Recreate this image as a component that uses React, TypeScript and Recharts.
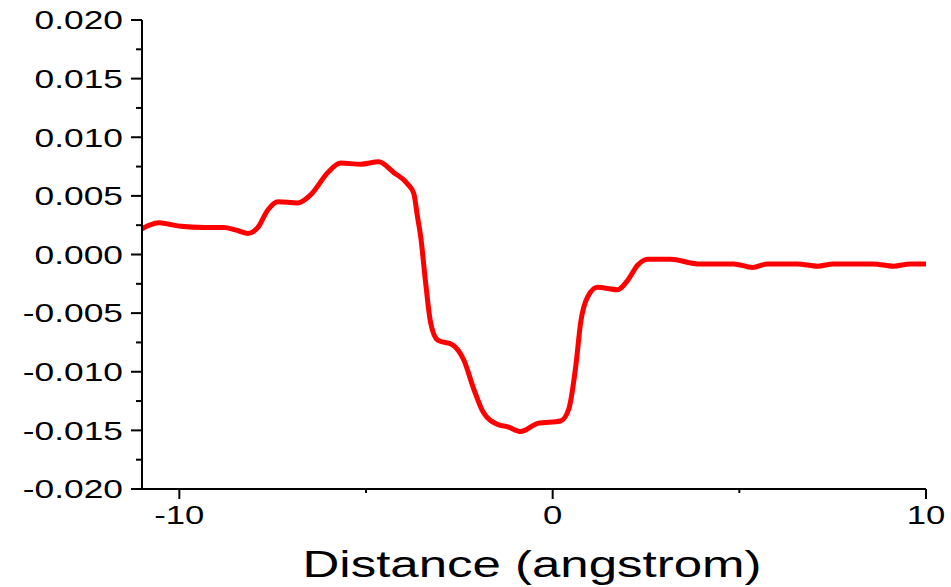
import React from 'react';
import { LineChart, Line, XAxis, YAxis, Label } from 'recharts';

// Sampled profile along the line (distance in angstrom)
const distance = [
  -11, -10.8, -10.55, -10.3, -9.96, -9.34, -8.81, -8.5, -8.17, -7.9, -7.63, -7.36,
  -6.83, -6.48, -6.02, -5.68, -5.14, -4.66, -4.26, -3.88, -3.72, -3.62, -3.53, -3.4,
  -3.27, -3.08, -2.68, -2.38, -2.11, -1.85, -1.47, -1.2, -0.86, -0.4, 0.21, 0.43,
  0.62, 0.75, 0.94, 1.2, 1.74, 2.01, 2.28, 2.54, 3.16, 3.88, 4.85, 5.35, 5.76, 6.56,
  7.1, 7.52, 8.59, 9.13, 9.58, 10,
];

const profile = [
  0.0022, 0.0025, 0.0027, 0.0026, 0.0024, 0.0023, 0.0023, 0.0021, 0.0018, 0.0023, 0.0038, 0.0045,
  0.0044, 0.0051, 0.007, 0.0078, 0.0077, 0.0079, 0.007, 0.006, 0.0052, 0.0032, 0.0014, -0.0025,
  -0.0058, -0.0073, -0.0077, -0.009, -0.0115, -0.0135, -0.0145, -0.0147, -0.0151, -0.0144, -0.0142, -0.0132,
  -0.0095, -0.0058, -0.0036, -0.0028, -0.003, -0.0022, -0.0009, -0.0004, -0.0004, -0.0008, -0.0008, -0.0011, -0.0008, -0.0008,
  -0.001, -0.0008, -0.0008, -0.001, -0.0008, -0.0008,
];

const xTicks = [-10, -5, 0, 5, 10];
const xLabeled = [-10, 0, 10];

const yTicks = [
  -0.02, -0.0175, -0.015, -0.0125, -0.01, -0.0075, -0.005, -0.0025, 0,
  0.0025, 0.005, 0.0075, 0.01, 0.0125, 0.015, 0.0175, 0.02,
];
const yLabeled = [-0.02, -0.015, -0.01, -0.005, 0, 0.005, 0.01, 0.015, 0.02];

const data = distance.map((d, i) => ({ d, v: profile[i] }));

const FONT = '"Liberation Sans", Arial, sans-serif';
const STRETCH = 1.36;

const isLabeled = (list: number[], v: number) => list.some((t) => Math.abs(t - v) < 1e-9);

const XTick = (props: any) => {
  const { x, y, payload } = props;
  const major = isLabeled(xLabeled, payload.value);
  return (
    <g>
      <line x1={x} x2={x} y1={y} y2={y + (major ? 10 : 4)} stroke="#000" strokeWidth={2} />
      {major && (
        <text
          transform={`translate(${x},${y + 35}) scale(${STRETCH},1)`}
          textAnchor="middle"
          fontFamily={FONT}
          fontSize={25.5}
          fill="#000"
        >
          {String(payload.value)}
        </text>
      )}
    </g>
  );
};

const YTick = (props: any) => {
  const { x, y, payload } = props;
  const major = isLabeled(yLabeled, payload.value);
  return (
    <g>
      <line x1={x - (major ? 11 : 6)} x2={x} y1={y} y2={y} stroke="#000" strokeWidth={2} />
      {major && (
        <text
          transform={`translate(${x - 19},${y}) scale(${STRETCH},1)`}
          textAnchor="end"
          dy="0.36em"
          fontFamily={FONT}
          fontSize={26}
          fill="#000"
        >
          {Number(payload.value).toFixed(3)}
        </text>
      )}
    </g>
  );
};

const AxisTitle = (props: any) => {
  const vb = props.viewBox || { x: 142, y: 489, width: 784, height: 98 };
  const cx = vb.x + vb.width / 2 - 2;
  return (
    <text
      transform={`translate(${cx},${vb.y + 88}) scale(${STRETCH},1)`}
      textAnchor="middle"
      fontFamily={FONT}
      fontSize={37.5}
      fill="#000"
    >
      Distance (angstrom)
    </text>
  );
};

export default function App() {
  return (
    <div style={{ position: 'absolute', left: 0, top: 0, background: '#fff' }}>
      <LineChart
        width={951}
        height={587}
        data={data}
        margin={{ top: 20, right: 25, bottom: 0, left: 0 }}
      >
        <XAxis
          dataKey="d"
          type="number"
          domain={[-11, 10]}
          ticks={xTicks}
          interval={0}
          height={98}
          tickSize={0}
          tickMargin={0}
          tickLine={false}
          axisLine={{ stroke: '#000', strokeWidth: 2 }}
          tick={<XTick />}
          allowDataOverflow
        >
          <Label content={<AxisTitle />} />
        </XAxis>
        <YAxis
          type="number"
          domain={[-0.02, 0.02]}
          ticks={yTicks}
          interval={0}
          width={142}
          tickSize={0}
          tickMargin={0}
          tickLine={false}
          axisLine={{ stroke: '#000', strokeWidth: 2 }}
          tick={<YTick />}
          allowDataOverflow
        />
        <Line
          dataKey="v"
          type="monotone"
          stroke="#ff0000"
          strokeWidth={5}
          dot={false}
          activeDot={false}
          isAnimationActive={false}
        />
      </LineChart>
    </div>
  );
}
